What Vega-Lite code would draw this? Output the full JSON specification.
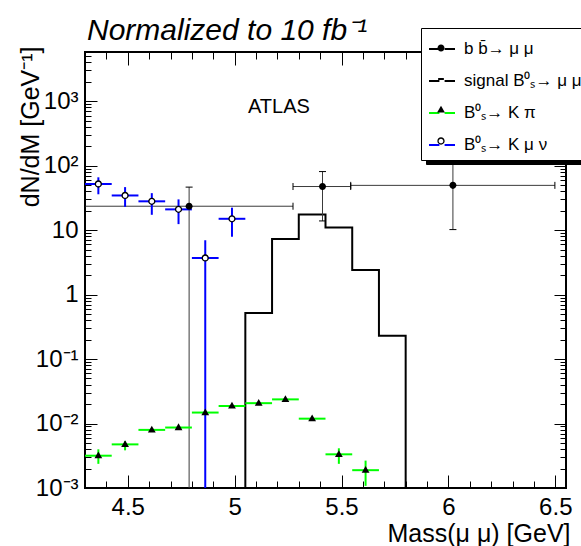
{
  "$schema": "https://vega.github.io/schema/vega-lite/v6.json",
  "width": 481,
  "height": 436,
  "autosize": {"type": "none"},
  "padding": {"left": 85, "top": 52, "right": 15, "bottom": 58},
  "background": "white",
  "config": {
    "view": {"stroke": "black", "strokeWidth": 2},
    "font": "Liberation Sans",
    "axis": {"grid": false, "domain": false, "labelFont": "Liberation Sans", "titleFont": "Liberation Sans", "labelColor": "black", "titleColor": "black", "tickColor": "black", "titleFontWeight": "normal"}
  },
  "title": {"text": "Normalized to 10 fb⁻¹", "anchor": "start", "frame": "group", "font": "Liberation Sans", "fontStyle": "italic", "fontWeight": "normal", "fontSize": 30, "baseline": "alphabetic", "offset": 15, "dx": 2, "dy": 57, "color": "black"},
  "datasets": {
    "sig": [
      {"i": 0, "series": "signal B⁰ₛ→ μ μ", "x": 5.05, "y": 0.00001},
      {"i": 1, "series": "signal B⁰ₛ→ μ μ", "x": 5.05, "y": 0.52},
      {"i": 2, "series": "signal B⁰ₛ→ μ μ", "x": 5.175, "y": 7.3},
      {"i": 3, "series": "signal B⁰ₛ→ μ μ", "x": 5.3, "y": 17.5},
      {"i": 4, "series": "signal B⁰ₛ→ μ μ", "x": 5.425, "y": 11.0},
      {"i": 5, "series": "signal B⁰ₛ→ μ μ", "x": 5.55, "y": 2.4},
      {"i": 6, "series": "signal B⁰ₛ→ μ μ", "x": 5.675, "y": 0.23},
      {"i": 7, "series": "signal B⁰ₛ→ μ μ", "x": 5.8, "y": 0.00001}
    ],
    "pts": [
      {"series": "b b̄→ μ μ", "marker": "m1", "x": 4.787, "y": 23.5, "xlo": 4.3, "xhi": 5.273, "ylo": 0.00001, "yhi": 46.5},
      {"series": "b b̄→ μ μ", "marker": "m1", "x": 5.411, "y": 47.5, "xlo": 5.273, "xhi": 5.543, "ylo": 13.9, "yhi": 81},
      {"series": "b b̄→ μ μ", "marker": "m1", "x": 6.021, "y": 49.5, "xlo": 5.543, "xhi": 6.498, "ylo": 10.2, "yhi": 200},
      {"series": "B⁰ₛ→ K μ ν", "marker": "m4", "x": 4.3625, "y": 52, "xlo": 4.3, "xhi": 4.425, "ylo": 36, "yhi": 66},
      {"series": "B⁰ₛ→ K μ ν", "marker": "m4", "x": 4.4875, "y": 34.5, "xlo": 4.425, "xhi": 4.55, "ylo": 23, "yhi": 46.5},
      {"series": "B⁰ₛ→ K μ ν", "marker": "m4", "x": 4.6125, "y": 28, "xlo": 4.55, "xhi": 4.675, "ylo": 17.3, "yhi": 37.5},
      {"series": "B⁰ₛ→ K μ ν", "marker": "m4", "x": 4.7375, "y": 21, "xlo": 4.675, "xhi": 4.8, "ylo": 12.4, "yhi": 30},
      {"series": "B⁰ₛ→ K μ ν", "marker": "m4", "x": 4.8625, "y": 3.7, "xlo": 4.8, "xhi": 4.925, "ylo": 0.00001, "yhi": 7.0},
      {"series": "B⁰ₛ→ K μ ν", "marker": "m4", "x": 4.9875, "y": 15, "xlo": 4.925, "xhi": 5.05, "ylo": 7.9, "yhi": 22.3},
      {"series": "B⁰ₛ→ K π", "marker": "m3", "x": 4.3625, "y": 0.00317, "xlo": 4.3, "xhi": 4.425, "ylo": 0.00237, "yhi": 0.00398},
      {"series": "B⁰ₛ→ K π", "marker": "m3", "x": 4.4875, "y": 0.00475, "xlo": 4.425, "xhi": 4.55, "ylo": 0.00384, "yhi": 0.00533},
      {"series": "B⁰ₛ→ K π", "marker": "m3", "x": 4.6125, "y": 0.00797, "xlo": 4.55, "xhi": 4.675, "ylo": 0.0076, "yhi": 0.0084},
      {"series": "B⁰ₛ→ K π", "marker": "m3", "x": 4.7375, "y": 0.00867, "xlo": 4.675, "xhi": 4.8, "ylo": 0.0082, "yhi": 0.0091},
      {"series": "B⁰ₛ→ K π", "marker": "m3", "x": 4.8625, "y": 0.0148, "xlo": 4.8, "xhi": 4.925, "ylo": 0.014, "yhi": 0.0156},
      {"series": "B⁰ₛ→ K π", "marker": "m3", "x": 4.9875, "y": 0.0187, "xlo": 4.925, "xhi": 5.05, "ylo": 0.0178, "yhi": 0.0196},
      {"series": "B⁰ₛ→ K π", "marker": "m3", "x": 5.1125, "y": 0.0207, "xlo": 5.05, "xhi": 5.175, "ylo": 0.0197, "yhi": 0.0217},
      {"series": "B⁰ₛ→ K π", "marker": "m3", "x": 5.2375, "y": 0.0237, "xlo": 5.175, "xhi": 5.3, "ylo": 0.0226, "yhi": 0.0248},
      {"series": "B⁰ₛ→ K π", "marker": "m3", "x": 5.3625, "y": 0.0119, "xlo": 5.3, "xhi": 5.425, "ylo": 0.0113, "yhi": 0.0125},
      {"series": "B⁰ₛ→ K π", "marker": "m3", "x": 5.4875, "y": 0.00333, "xlo": 5.425, "xhi": 5.55, "ylo": 0.00237, "yhi": 0.00413},
      {"series": "B⁰ₛ→ K π", "marker": "m3", "x": 5.6125, "y": 0.00189, "xlo": 5.55, "xhi": 5.675, "ylo": 0.00108, "yhi": 0.00266}
    ],
    "ann": [{"label": "ATLAS", "x": 5.207, "y": 800}]
  },
  "resolve": {"axis": {"x": "independent", "y": "independent"}},
  "layer": [
    {
      "data": {"name": "pts"},
      "transform": [{"filter": "datum.marker === 'm1'"}],
      "mark": {"type": "rule", "strokeWidth": 1, "clip": true},
      "encoding": {
        "x": {"field": "xlo", "type": "quantitative", "scale": {"domain": [4.3, 6.55], "nice": false, "zero": false},
          "axis": {"orient": "bottom", "labels": false, "title": null,
          "values": [4.3,4.4,4.5,4.6,4.7,4.8,4.9,5.0,5.1,5.2,5.3,5.4,5.5,5.6,5.7,5.8,5.9,6.0,6.1,6.2,6.3,6.4,6.5],
          "tickSize": {"condition": {"test": "abs(datum.value*2 - round(datum.value*2)) < 0.001", "value": -13}, "value": -7}, "tickWidth": 1}},
        "x2": {"field": "xhi"},
        "y": {"field": "y", "type": "quantitative", "scale": {"type": "log", "domain": [0.001, 5800], "nice": false},
          "axis": {"orient": "left", "labels": false, "title": null,
          "values": [0.001,0.002,0.003,0.004,0.005,0.006,0.007,0.008,0.009,0.01,0.02,0.03,0.04,0.05,0.06,0.07,0.08,0.09,0.1,0.2,0.3,0.4,0.5,0.6,0.7,0.8,0.9,1,2,3,4,5,6,7,8,9,10,20,30,40,50,60,70,80,90,100,200,300,400,500,600,700,800,900,1000,2000,3000,4000,5000],
          "tickSize": {"condition": {"test": "abs(log(datum.value)/LN10 - round(log(datum.value)/LN10)) < 0.01", "value": -12}, "value": -6}, "tickWidth": 1}},
        "color": {"field": "series", "type": "nominal", "scale": {"range": ["#3a3a3a"]},
          "legend": {"orient": "none", "legendX": 341, "legendY": -19, "direction": "vertical", "title": null,
            "symbolType": "M0,0", "symbolSize": 100, "symbolOpacity": 0,
            "labelFont": "Liberation Sans", "labelFontSize": 17, "labelOpacity": 0, "labelOffset": 8,
            "padding": 57, "strokeColor": "black", "fillColor": "black"}}
      }
    },
    {
      "data": {"name": "sig"},
      "mark": {"type": "line", "interpolate": "step-after", "strokeWidth": 2, "clip": true},
      "encoding": {
        "x": {"field": "x", "type": "quantitative",
          "axis": {"orient": "bottom", "values": [4.5, 5, 5.5, 6, 6.5], "format": "~g", "ticks": false, "labelFontSize": 24, "labelPadding": 7, "labelFlush": false,
            "title": "Mass(μ μ) [GeV]", "titleFontSize": 25, "titleAnchor": "end", "titleAlign": "right", "titleBaseline": "middle", "titleX": 485, "titleY": 45}},
        "y": {"field": "y", "type": "quantitative",
          "axis": {"orient": "left", "values": [0.001, 0.01, 0.1, 1, 10, 100, 1000], "ticks": false, "labelFontSize": 24, "labelPadding": 7, "labelFlush": false,
            "labelExpr": "datum.value > 0.99 && datum.value < 1.01 ? '1' : datum.value > 9 && datum.value < 11 ? '10' : datum.value < 0.0011 ? '10⁻³' : datum.value < 0.011 ? '10⁻²' : datum.value < 0.11 ? '10⁻¹' : datum.value < 110 ? '10²' : '10³'",
            "title": "dN/dM [GeV⁻¹]", "titleFontSize": 25, "titleAngle": -90, "titleAlign": "right", "titleBaseline": "middle", "titleX": -55, "titleY": -6}},
        "order": {"field": "i", "type": "quantitative"},
        "stroke": {"field": "series", "type": "nominal",
          "scale": {"domain": ["b b̄→ μ μ", "signal B⁰ₛ→ μ μ", "B⁰ₛ→ K π", "B⁰ₛ→ K μ ν"], "range": ["black", "black", "#00ff00", "#0000ff"]},
          "legend": {"orient": "none", "legendX": 336, "legendY": -24, "direction": "vertical", "title": null,
            "symbolType": "M-1,0H-0.2M0.2,0H1", "symbolSize": 676, "symbolStrokeWidth": 2, "symbolFillColor": "transparent",
            "labelFont": "Liberation Sans", "labelFontSize": 17, "labelColor": "black", "labelOffset": 8, "labelLimit": 400,
            "rowPadding": 10, "padding": 7, "strokeColor": "black", "fillColor": "white"}}
      }
    },
    {
      "data": {"name": "pts"},
      "transform": [{"filter": "datum.marker === 'm1'"}],
      "mark": {"type": "rule", "strokeWidth": 1, "color": "#3a3a3a", "clip": true},
      "encoding": {
        "x": {"field": "x", "type": "quantitative", "axis": {"orient": "top", "labels": false, "title": null,
          "values": [4.3,4.4,4.5,4.6,4.7,4.8,4.9,5.0,5.1,5.2,5.3,5.4,5.5,5.6,5.7,5.8,5.9,6.0,6.1,6.2,6.3,6.4,6.5],
          "tickSize": {"condition": {"test": "abs(datum.value*2 - round(datum.value*2)) < 0.001", "value": -13}, "value": -7}, "tickWidth": 1}},
        "y": {"field": "ylo", "type": "quantitative", "axis": {"orient": "right", "labels": false, "title": null,
          "values": [0.001,0.002,0.003,0.004,0.005,0.006,0.007,0.008,0.009,0.01,0.02,0.03,0.04,0.05,0.06,0.07,0.08,0.09,0.1,0.2,0.3,0.4,0.5,0.6,0.7,0.8,0.9,1,2,3,4,5,6,7,8,9,10,20,30,40,50,60,70,80,90,100,200,300,400,500,600,700,800,900,1000,2000,3000,4000,5000],
          "tickSize": {"condition": {"test": "abs(log(datum.value)/LN10 - round(log(datum.value)/LN10)) < 0.01", "value": -12}, "value": -6}, "tickWidth": 1}},
        "y2": {"field": "yhi"}
      }
    },
    {
      "data": {"name": "pts"},
      "transform": [{"filter": "datum.marker === 'm1'"}],
      "mark": {"type": "point", "shape": "M0,-1V1", "size": 49, "strokeWidth": 1, "color": "black", "opacity": 1, "clip": true},
      "encoding": {
        "x": {"field": "xlo", "type": "quantitative", "axis": null},
        "y": {"field": "y", "type": "quantitative", "axis": null}
      }
    },
    {
      "data": {"name": "pts"},
      "transform": [{"filter": "datum.marker === 'm1'"}],
      "mark": {"type": "point", "shape": "M0,-1V1", "size": 49, "strokeWidth": 1, "color": "black", "opacity": 1, "clip": true},
      "encoding": {
        "x": {"field": "xhi", "type": "quantitative", "axis": null},
        "y": {"field": "y", "type": "quantitative", "axis": null}
      }
    },
    {
      "data": {"name": "pts"},
      "transform": [{"filter": "datum.marker === 'm1'"}],
      "mark": {"type": "point", "shape": "M-1,0H1", "size": 49, "strokeWidth": 1, "color": "black", "opacity": 1, "clip": true},
      "encoding": {
        "x": {"field": "x", "type": "quantitative", "axis": null},
        "y": {"field": "ylo", "type": "quantitative", "axis": null}
      }
    },
    {
      "data": {"name": "pts"},
      "transform": [{"filter": "datum.marker === 'm1'"}],
      "mark": {"type": "point", "shape": "M-1,0H1", "size": 49, "strokeWidth": 1, "color": "black", "opacity": 1, "clip": true},
      "encoding": {
        "x": {"field": "x", "type": "quantitative", "axis": null},
        "y": {"field": "yhi", "type": "quantitative", "axis": null}
      }
    },
    {
      "data": {"name": "pts"},
      "transform": [{"filter": "datum.marker !== 'm1'"}],
      "mark": {"type": "rule", "strokeWidth": 2, "clip": true},
      "encoding": {
        "x": {"field": "xlo", "type": "quantitative", "axis": null},
        "x2": {"field": "xhi"},
        "y": {"field": "y", "type": "quantitative", "axis": null},
        "stroke": {"field": "series", "type": "nominal"}
      }
    },
    {
      "data": {"name": "pts"},
      "transform": [{"filter": "datum.marker !== 'm1'"}],
      "mark": {"type": "rule", "strokeWidth": 2, "clip": true},
      "encoding": {
        "x": {"field": "x", "type": "quantitative", "axis": null},
        "y": {"field": "ylo", "type": "quantitative", "axis": null},
        "y2": {"field": "yhi"},
        "stroke": {"field": "series", "type": "nominal"}
      }
    },
    {
      "data": {"name": "pts"},
      "transform": [{"filter": "datum.marker === 'm4'"}],
      "mark": {"type": "point", "filled": true, "shape": "M-0.2,0A0.2,0.2 0 1,1 0.2,0A0.2,0.2 0 1,1 -0.2,0Z", "size": 676, "color": "white", "opacity": 1, "clip": true},
      "encoding": {
        "x": {"field": "x", "type": "quantitative", "axis": null},
        "y": {"field": "y", "type": "quantitative", "axis": null}
      }
    },
    {
      "data": {"name": "pts"},
      "mark": {"type": "point", "filled": true, "strokeWidth": 0, "size": 676, "opacity": 1, "clip": true},
      "encoding": {
        "x": {"field": "x", "type": "quantitative", "axis": null},
        "y": {"field": "y", "type": "quantitative", "axis": null},
        "shape": {"field": "marker", "type": "nominal",
          "scale": {"domain": ["m1", "m2", "m3", "m4"], "range": [
            "M-0.27,0A0.27,0.27 0 1,1 0.27,0A0.27,0.27 0 1,1 -0.27,0Z",
            "M-0.22,-0.077H0.22V0.077H-0.22Z",
            "M0,-0.32L0.3,0.2L-0.3,0.2Z",
            "M-0.28,0A0.28,0.28 0 1,1 0.28,0A0.28,0.28 0 1,1 -0.28,0ZM-0.18,0A0.18,0.18 0 1,0 0.18,0A0.18,0.18 0 1,0 -0.18,0Z"]},
          "legend": {"orient": "none", "legendX": 336, "legendY": -24, "direction": "vertical", "title": null,
            "symbolSize": 676, "symbolStrokeWidth": 0,
            "labelFont": "Liberation Sans", "labelFontSize": 17, "labelOpacity": 0, "labelOffset": 8,
            "rowPadding": 10, "padding": 7}},
        "fill": {"field": "marker", "type": "nominal",
          "scale": {"domain": ["m1", "m2", "m3", "m4"], "range": ["black", "black", "black", "black"]}}
      }
    },
    {
      "data": {"name": "ann"},
      "mark": {"type": "text", "font": "Liberation Sans", "fontSize": 20, "color": "black"},
      "encoding": {
        "x": {"field": "x", "type": "quantitative", "axis": null},
        "y": {"field": "y", "type": "quantitative", "axis": null},
        "text": {"field": "label"}
      }
    }
  ]
}
